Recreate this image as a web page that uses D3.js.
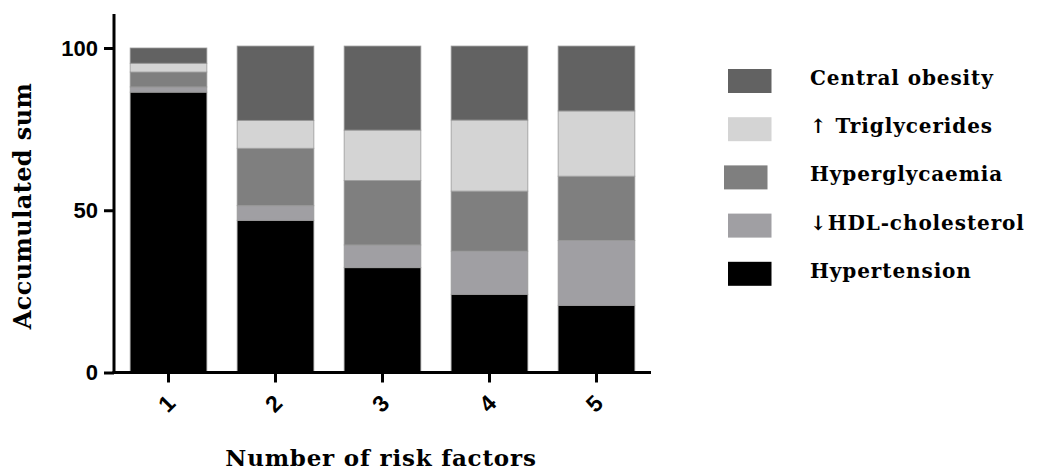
<!DOCTYPE html>
<html>
<head>
<meta charset="utf-8">
<script src="https://cdn.jsdelivr.net/npm/d3@7"></script>
<style>
  html, body { margin: 0; padding: 0; background: #fff; }
  svg { display: block; }
</style>
</head>
<body>
<svg id="chart" width="1038" height="476"></svg>
<script>
// ---- data ----
const categories = ["1", "2", "3", "4", "5"];
const seriesNames = ["Hypertension", "↓HDL-cholesterol", "Hyperglycaemia", "↑ Triglycerides", "Central obesity"];
const hypertension   = [86.4, 46.9, 32.3, 24.1, 20.7];
const hdlCholesterol = [1.6, 4.5, 7.0, 13.3, 20.0];
const hyperglycaemia = [4.6, 17.7, 19.9, 18.5, 19.8];
const triglycerides  = [2.7, 8.6, 15.5, 21.9, 20.1];
const centralObesity = [4.7, 22.9, 25.9, 22.8, 20.0];
const yTicks = [0, 50, 100];
const legendOrder = ["Central obesity", "↑ Triglycerides", "Hyperglycaemia", "↓HDL-cholesterol", "Hypertension"];
const colors = {
  "Hypertension": "#000000",
  "↓HDL-cholesterol": "#a09fa3",
  "Hyperglycaemia": "#7f7f7f",
  "↑ Triglycerides": "#d4d4d4",
  "Central obesity": "#626262"
};

const seriesValues = [hypertension, hdlCholesterol, hyperglycaemia, triglycerides, centralObesity];
const table = categories.map((c, i) => {
  const row = { cat: c };
  seriesNames.forEach((s, k) => row[s] = seriesValues[k][i]);
  return row;
});
const stacked = d3.stack().keys(seriesNames)(table);

const svg = d3.select("#chart");
const axisX = 114, axisBottom = 372.5, axisTop = 14;

const x = d3.scaleBand().domain(categories).range([axisX, 651]).paddingInner(0.283).paddingOuter(0.151);
const y = d3.scaleLinear().domain([0, 100]).range([372.5, 48]);

// bars
svg.append("g").selectAll("g").data(stacked).join("g")
  .attr("fill", d => colors[d.key])
  .selectAll("rect").data(d => d).join("rect")
  .attr("x", d => x(d.data.cat))
  .attr("width", x.bandwidth())
  .attr("y", d => y(d[1]))
  .attr("height", d => y(d[0]) - y(d[1]))
  .attr("stroke", "#9a9a9a")
  .attr("stroke-width", 0.8);

// y axis
const yAxis = svg.append("g").attr("transform", `translate(${axisX},0)`)
  .call(d3.axisLeft(y).tickValues(yTicks).tickSize(10).tickPadding(6));
yAxis.select(".domain").remove();
yAxis.append("line").attr("x1", 0).attr("x2", 0).attr("y1", axisTop).attr("y2", axisBottom + 1.5)
  .attr("stroke", "#000").attr("stroke-width", 3);
yAxis.selectAll(".tick line").attr("stroke", "#000").attr("stroke-width", 3);
yAxis.selectAll(".tick text")
  .attr("fill", "#000")
  .style("font-family", "'Liberation Sans', Arial, sans-serif")
  .style("font-weight", "bold")
  .style("font-size", "22px");

// x axis
const xAxis = svg.append("g").attr("transform", `translate(0,${axisBottom})`)
  .call(d3.axisBottom(x).tickSize(10).tickPadding(8));
xAxis.select(".domain").remove();
xAxis.append("line").attr("x1", axisX - 1.5).attr("x2", 651).attr("y1", 0).attr("y2", 0)
  .attr("stroke", "#000").attr("stroke-width", 3);
xAxis.selectAll(".tick line").attr("stroke", "#000").attr("stroke-width", 3);
xAxis.selectAll(".tick text")
  .attr("fill", "#000")
  .attr("text-anchor", "middle")
  .attr("dy", null)
  .attr("y", 0)
  .attr("transform", "translate(-2,31) rotate(-45)")
  .attr("dominant-baseline", "central")
  .style("font-family", "'Liberation Sans', Arial, sans-serif")
  .style("font-weight", "bold")
  .style("font-size", "23px");

// axis titles
const serif = "'DejaVu Serif', 'Liberation Serif', serif";
svg.append("text")
  .attr("transform", "translate(31,206) rotate(-90)")
  .attr("text-anchor", "middle")
  .style("font-family", serif)
  .style("font-weight", "bold")
  .style("font-size", "24px")
  .style("letter-spacing", "0.4px")
  .text("Accumulated sum");

svg.append("text")
  .attr("x", 381).attr("y", 466)
  .attr("text-anchor", "middle")
  .style("font-family", serif)
  .style("font-weight", "bold")
  .style("font-size", "23px")
  .style("letter-spacing", "0.8px")
  .text("Number of risk factors");

// legend
const legend = svg.append("g").selectAll("g").data(legendOrder).join("g")
  .attr("transform", (d, i) => `translate(0,${81 + i * 48.2})`);
legend.append("rect")
  .attr("x", (d, i) => i === 2 ? 724 : 728)
  .attr("y", -12).attr("width", 43.5).attr("height", 24)
  .attr("fill", d => colors[d]);
legend.append("text")
  .attr("x", 810).attr("y", 4)
  .style("font-family", serif)
  .style("font-weight", "bold")
  .style("font-size", "20px")
  .style("letter-spacing", "0.9px")
  .text(d => d);
</script>
</body>
</html>
